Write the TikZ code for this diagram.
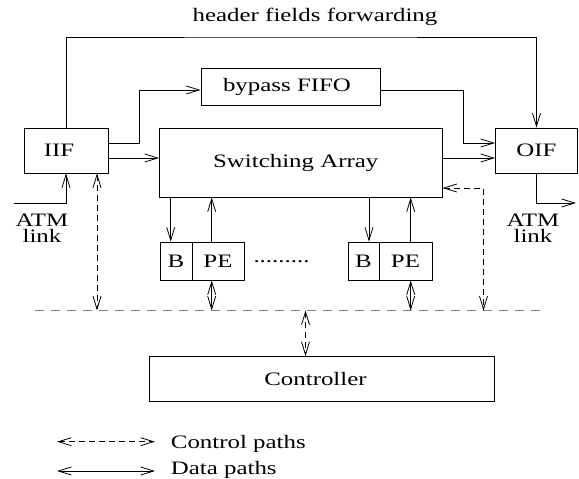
\documentclass[tikz,border=0pt]{standalone}
\usepackage{fontspec}
\setmainfont{Liberation Serif}[FakeStretch=1.31]
\usetikzlibrary{arrows.meta}
\begin{document}
\begin{tikzpicture}[x=1pt,y=-1pt, line width=0.8pt,
  tipb/.tip={Straight Barb[length=13pt,width=8pt]},
  arr/.style={-tipb},
  dbl/.style={tipb-tipb},
  ctl/.style={dbl, dash pattern=on 6pt off 4pt},
  bus/.style={gray, dash pattern=on 9pt off 7pt},
  txt/.style={font=\fontsize{19}{21}\selectfont},
  box/.style={draw, inner sep=0pt, txt},
  lbl/.style={inner sep=0pt, txt},
  twoline/.style={inner sep=0pt, align=center, font=\fontsize{19}{16.5}\selectfont}]
\useasboundingbox (0,0) rectangle (579,479);
% boxes
\node[box, minimum width=84pt, minimum height=45pt] (IIF) at (66,150.5) {\hspace*{-14pt}IIF};
\node[box, minimum width=282.5pt, minimum height=69pt] (SA) at (300.75,162.5) {\hspace*{-10pt}Switching Array};
\node[box, minimum width=179pt, minimum height=37pt] (FIFO) at (290.5,86.5) {\hspace*{-7pt}bypass FIFO};
\node[box, minimum width=82pt, minimum height=45pt] (OIF) at (536.5,150.5) {OIF};
\node[box, minimum width=32pt, minimum height=38pt] (B1) at (176,261) {B};
\node[box, minimum width=52pt, minimum height=38pt] (PE1) at (218,261) {PE};
\node[box, minimum width=31pt, minimum height=38pt] (B2) at (363.5,261) {B};
\node[box, minimum width=53pt, minimum height=38pt] (PE2) at (405.5,261) {PE};
\node[box, minimum width=345pt, minimum height=45pt] (CTRL) at (322,379) {\hspace*{-13pt}Controller};
% labels
\node[lbl] (hdrtxt) at (315,17) {header fields forwarding};
\node[lbl, anchor=base] (dots) at (281.5,262) {.........};
\node[twoline, anchor=north] (atmL) at (42,213.5) {ATM\\link};
\node[twoline, anchor=north] (atmR) at (533,213.5) {ATM\\link};
\node[lbl, anchor=base west] (ctltxt) at (170.5,448) {Control paths};
\node[lbl, anchor=base west] (dattxt) at (170.5,474.5) {Data paths};
% helper coordinates
\coordinate (hdr) at (300,37);
\coordinate (a0) at ([yshift=7.5pt]IIF.east);
\coordinate (a1) at ([yshift=-7.5pt]IIF.east);
\coordinate (kL) at (139,90);
\coordinate (f1) at ([yshift=-3.5pt]FIFO.east);
\coordinate (kR) at (463,0);
\coordinate (o1) at ([yshift=7.5pt]OIF.west);
\coordinate (o2) at ([yshift=-7.5pt]OIF.west);
\coordinate (s1) at ([yshift=-25.5pt]SA.east);
\coordinate (outR) at (576,203);
\coordinate (inL) at (14,203);
\coordinate (busL) at (35,310.5);
\coordinate (busR) at (541,310.5);
\coordinate (d1) at (97,310.5);
\coordinate (d3) at (305.5,310.5);
\coordinate (d4) at (483.5,310.5);
\coordinate (x1) at (170.7,0);
\coordinate (x2) at (211.7,0);
\coordinate (x3) at (369,0);
\coordinate (x4) at (410.7,0);
\coordinate (l1) at (57,441.7);
\coordinate (l2) at (155,441.7);
\coordinate (l3) at (57,471);
\coordinate (l4) at (155,471);
% data connectors
\draw[arr] (IIF.north) |- (hdr) -| (OIF.north);
\draw[arr] (a0) -| (kL) -- (kL -| FIFO.west);
\draw[arr] (a1) -- (a1 -| SA.west);
\draw[arr] (f1) -| (kR |- o1) -- (o1);
\draw[arr] (o2 -| SA.east) -- (o2);
\draw[arr] (OIF.south) |- (outR);
\draw[arr] (inL) -| (IIF.south);
\draw[arr] (SA.south -| x1) -- (B1.north -| x1);
\draw[arr] (PE1.north -| x2) -- (SA.south -| x2);
\draw[arr] (SA.south -| x3) -- (B2.north -| x3);
\draw[arr] (PE2.north -| x4) -- (SA.south -| x4);
\draw[dbl] (PE1.south -| x2) -- (busL -| x2);
\draw[dbl] (PE2.south -| x4) -- (busL -| x4);
% control connectors
\draw[bus] (busL) -- (busR);
\draw[ctl] (IIF.south -| d1) -- (d1);
\draw[ctl] (s1) -| (d4);
\draw[ctl] (d3) -- (CTRL.north -| d3);
% legend
\draw[ctl] (l1) -- (l2);
\draw[dbl] (l3) -- (l4);
\end{tikzpicture}
\end{document}
